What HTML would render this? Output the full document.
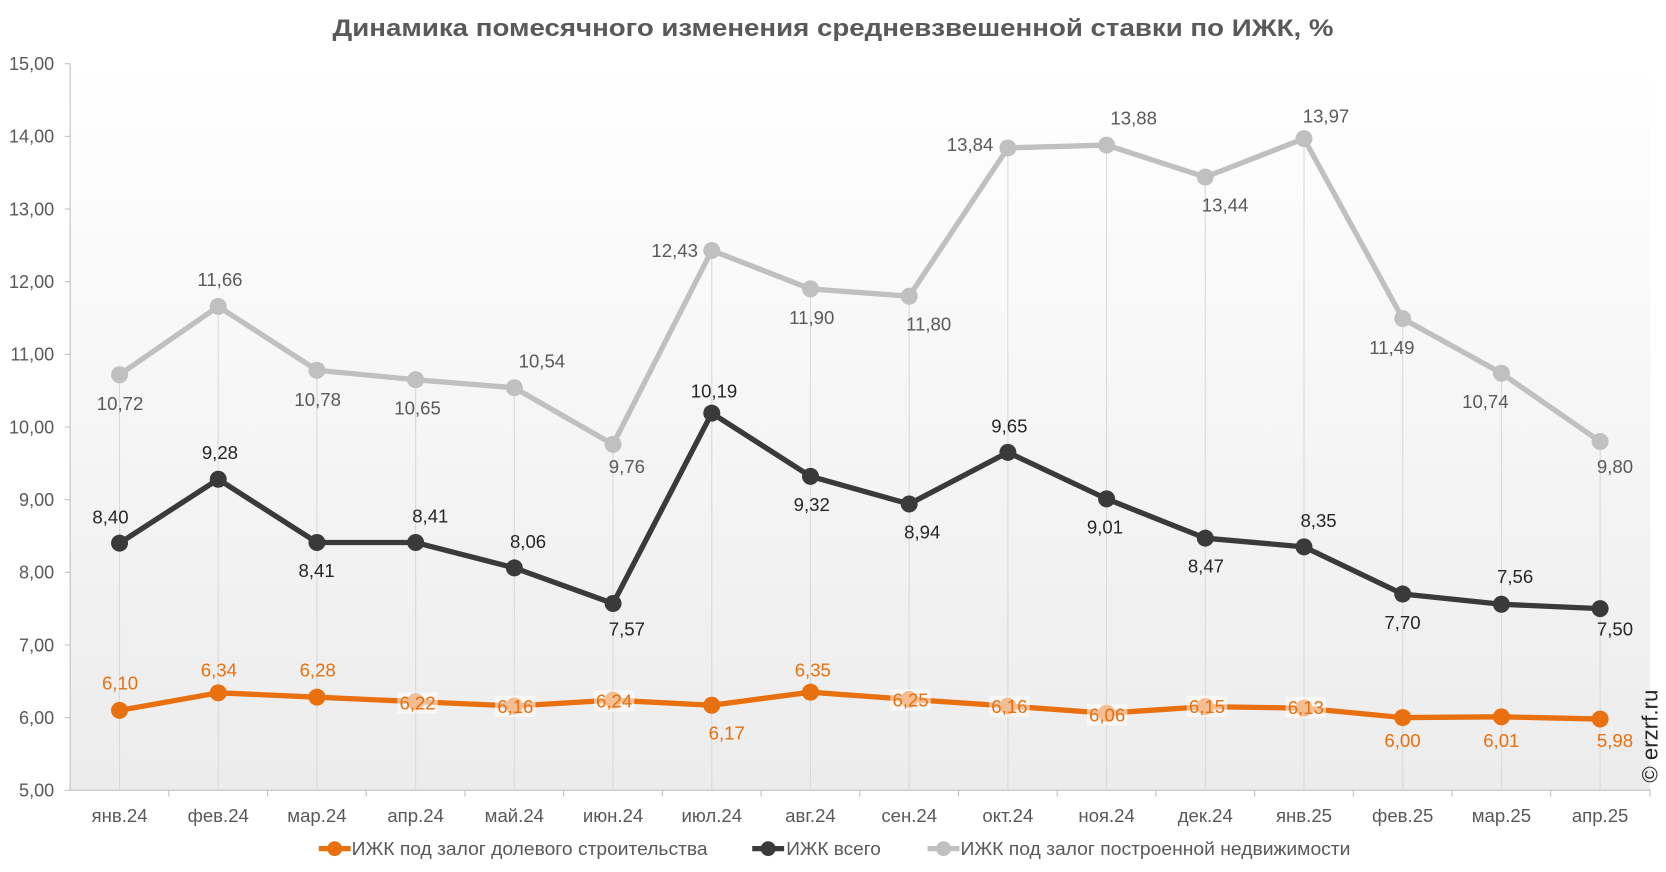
<!DOCTYPE html>
<html><head><meta charset="utf-8"><style>html,body{margin:0;padding:0;background:#fff}svg{display:block}text{font-family:"Liberation Sans",sans-serif}</style></head><body>
<svg width="1666" height="872" viewBox="0 0 1568 821" preserveAspectRatio="none" xmlns="http://www.w3.org/2000/svg">
<defs><linearGradient id="bg" x1="0" y1="0" x2="0" y2="1"><stop offset="0" stop-color="#ffffff"/><stop offset="1" stop-color="#ececec"/></linearGradient></defs>
<rect width="1568" height="821" fill="#fff"/>
<text x="313" y="34" textLength="942" lengthAdjust="spacingAndGlyphs" font-size="23" font-weight="bold" fill="#595959">Динамика помесячного изменения средневзвешенной ставки по ИЖК, %</text>
<rect x="66" y="60" width="1487" height="684" fill="url(#bg)"/>
<g stroke="#d9d9d9" stroke-width="1">
<line x1="112.5" y1="352" x2="112.5" y2="744"/><line x1="205.4" y1="288" x2="205.4" y2="744"/><line x1="298.3" y1="348" x2="298.3" y2="744"/><line x1="391.2" y1="357" x2="391.2" y2="744"/><line x1="484.1" y1="365" x2="484.1" y2="744"/><line x1="577" y1="418" x2="577" y2="744"/><line x1="669.9" y1="236" x2="669.9" y2="744"/><line x1="762.8" y1="272" x2="762.8" y2="744"/><line x1="855.7" y1="279" x2="855.7" y2="744"/><line x1="948.6" y1="139" x2="948.6" y2="744"/><line x1="1041.5" y1="137" x2="1041.5" y2="744"/><line x1="1134.4" y1="167" x2="1134.4" y2="744"/><line x1="1227.3" y1="130" x2="1227.3" y2="744"/><line x1="1320.2" y1="300" x2="1320.2" y2="744"/><line x1="1413.1" y1="351" x2="1413.1" y2="744"/><line x1="1506" y1="416" x2="1506" y2="744"/>
</g>
<g stroke="#bfbfbf" stroke-width="1">
<line x1="66" y1="60" x2="66" y2="744"/><line x1="66" y1="744" x2="1553" y2="744"/>
<line x1="61" y1="60" x2="66" y2="60"/><line x1="61" y1="128.4" x2="66" y2="128.4"/><line x1="61" y1="196.8" x2="66" y2="196.8"/><line x1="61" y1="265.2" x2="66" y2="265.2"/><line x1="61" y1="333.6" x2="66" y2="333.6"/><line x1="61" y1="402" x2="66" y2="402"/><line x1="61" y1="470.4" x2="66" y2="470.4"/><line x1="61" y1="538.8" x2="66" y2="538.8"/><line x1="61" y1="607.2" x2="66" y2="607.2"/><line x1="61" y1="675.6" x2="66" y2="675.6"/><line x1="61" y1="744" x2="66" y2="744"/>
<line x1="158.9" y1="744" x2="158.9" y2="750"/><line x1="251.8" y1="744" x2="251.8" y2="750"/><line x1="344.7" y1="744" x2="344.7" y2="750"/><line x1="437.6" y1="744" x2="437.6" y2="750"/><line x1="530.5" y1="744" x2="530.5" y2="750"/><line x1="623.4" y1="744" x2="623.4" y2="750"/><line x1="716.3" y1="744" x2="716.3" y2="750"/><line x1="809.2" y1="744" x2="809.2" y2="750"/><line x1="902.1" y1="744" x2="902.1" y2="750"/><line x1="995" y1="744" x2="995" y2="750"/><line x1="1087.9" y1="744" x2="1087.9" y2="750"/><line x1="1180.8" y1="744" x2="1180.8" y2="750"/><line x1="1273.7" y1="744" x2="1273.7" y2="750"/><line x1="1366.6" y1="744" x2="1366.6" y2="750"/><line x1="1459.5" y1="744" x2="1459.5" y2="750"/><line x1="1553" y1="744" x2="1553" y2="750"/>
</g>
<g font-size="17" fill="#595959" text-anchor="end">
<text x="51" y="66">15,00</text><text x="51" y="134.4">14,00</text><text x="51" y="202.8">13,00</text><text x="51" y="271.2">12,00</text><text x="51" y="339.6">11,00</text><text x="51" y="408">10,00</text><text x="51" y="476.4">9,00</text><text x="51" y="544.8">8,00</text><text x="51" y="613.2">7,00</text><text x="51" y="681.6">6,00</text><text x="51" y="750">5,00</text>
</g>
<g font-size="17.5" fill="#595959" text-anchor="middle">
<text x="112.5" y="774">янв.24</text><text x="205.4" y="774">фев.24</text><text x="298.3" y="774">мар.24</text><text x="391.2" y="774">апр.24</text><text x="484.1" y="774">май.24</text><text x="577" y="774">июн.24</text><text x="669.9" y="774">июл.24</text><text x="762.8" y="774">авг.24</text><text x="855.7" y="774">сен.24</text><text x="948.6" y="774">окт.24</text><text x="1041.5" y="774">ноя.24</text><text x="1134.4" y="774">дек.24</text><text x="1227.3" y="774">янв.25</text><text x="1320.2" y="774">фев.25</text><text x="1413.1" y="774">мар.25</text><text x="1506" y="774">апр.25</text>
</g>
<polyline fill="none" stroke="#c0c0c0" stroke-width="5" stroke-linejoin="round" points="112.5,352.8 205.4,288.5 298.3,348.6 391.2,357.5 484.1,365.1 577,418.4 669.9,235.8 762.8,272 855.7,278.9 948.6,139.3 1041.5,136.6 1134.4,166.7 1227.3,130.5 1320.2,300 1413.1,351.4 1506,415.7"/>
<g fill="#c0c0c0">
<circle cx="112.5" cy="352.8" r="8"/><circle cx="205.4" cy="288.5" r="8"/><circle cx="298.3" cy="348.6" r="8"/><circle cx="391.2" cy="357.5" r="8"/><circle cx="484.1" cy="365.1" r="8"/><circle cx="577" cy="418.4" r="8"/><circle cx="669.9" cy="235.8" r="8"/><circle cx="762.8" cy="272" r="8"/><circle cx="855.7" cy="278.9" r="8"/><circle cx="948.6" cy="139.3" r="8"/><circle cx="1041.5" cy="136.6" r="8"/><circle cx="1134.4" cy="166.7" r="8"/><circle cx="1227.3" cy="130.5" r="8"/><circle cx="1320.2" cy="300" r="8"/><circle cx="1413.1" cy="351.4" r="8"/><circle cx="1506" cy="415.7" r="8"/>
</g>
<polyline fill="none" stroke="#3a3a3a" stroke-width="5" stroke-linejoin="round" points="112.5,511.4 205.4,451.2 298.3,510.8 391.2,510.8 484.1,534.7 577,568.2 669.9,389 762.8,448.5 855.7,474.5 948.6,425.9 1041.5,469.7 1134.4,506.7 1227.3,514.9 1320.2,559.3 1413.1,568.9 1506,573"/>
<g fill="#3a3a3a">
<circle cx="112.5" cy="511.4" r="8"/><circle cx="205.4" cy="451.2" r="8"/><circle cx="298.3" cy="510.8" r="8"/><circle cx="391.2" cy="510.8" r="8"/><circle cx="484.1" cy="534.7" r="8"/><circle cx="577" cy="568.2" r="8"/><circle cx="669.9" cy="389" r="8"/><circle cx="762.8" cy="448.5" r="8"/><circle cx="855.7" cy="474.5" r="8"/><circle cx="948.6" cy="425.9" r="8"/><circle cx="1041.5" cy="469.7" r="8"/><circle cx="1134.4" cy="506.7" r="8"/><circle cx="1227.3" cy="514.9" r="8"/><circle cx="1320.2" cy="559.3" r="8"/><circle cx="1413.1" cy="568.9" r="8"/><circle cx="1506" cy="573" r="8"/>
</g>
<polyline fill="none" stroke="#e8700e" stroke-width="5" stroke-linejoin="round" points="112.5,668.8 205.4,652.3 298.3,656.4 391.2,660.6 484.1,664.7 577,659.2 669.9,664 762.8,651.7 855.7,658.5 948.6,664.7 1041.5,671.5 1134.4,665.3 1227.3,666.7 1320.2,675.6 1413.1,674.9 1506,677"/>
<g fill="#e8700e">
<circle cx="112.5" cy="668.8" r="8"/><circle cx="205.4" cy="652.3" r="8"/><circle cx="298.3" cy="656.4" r="8"/><circle cx="391.2" cy="660.6" r="8"/><circle cx="484.1" cy="664.7" r="8"/><circle cx="577" cy="659.2" r="8"/><circle cx="669.9" cy="664" r="8"/><circle cx="762.8" cy="651.7" r="8"/><circle cx="855.7" cy="658.5" r="8"/><circle cx="948.6" cy="664.7" r="8"/><circle cx="1041.5" cy="671.5" r="8"/><circle cx="1134.4" cy="665.3" r="8"/><circle cx="1227.3" cy="666.7" r="8"/><circle cx="1320.2" cy="675.6" r="8"/><circle cx="1413.1" cy="674.9" r="8"/><circle cx="1506" cy="677" r="8"/>
</g>
<g font-size="17.5" fill="#595959" text-anchor="middle" dominant-baseline="central">
<text x="113" y="380">10,72</text><text x="207" y="263">11,66</text><text x="299" y="376">10,78</text><text x="393" y="384">10,65</text><text x="510" y="340">10,54</text><text x="590" y="439">9,76</text><text x="635" y="236">12,43</text><text x="764" y="299">11,90</text><text x="874" y="305">11,80</text><text x="913" y="136">13,84</text><text x="1067" y="111">13,88</text><text x="1153" y="193">13,44</text><text x="1248" y="109">13,97</text><text x="1310" y="327">11,49</text><text x="1398" y="378">10,74</text><text x="1520" y="439">9,80</text>
</g>
<g font-size="17.5" fill="#262626" text-anchor="middle" dominant-baseline="central">
<text x="104" y="487">8,40</text><text x="207" y="426">9,28</text><text x="298" y="537">8,41</text><text x="405" y="486">8,41</text><text x="497" y="510">8,06</text><text x="590" y="592">7,57</text><text x="672" y="368">10,19</text><text x="764" y="475">9,32</text><text x="868" y="501">8,94</text><text x="950" y="401">9,65</text><text x="1040" y="496">9,01</text><text x="1135" y="533">8,47</text><text x="1241" y="490">8,35</text><text x="1320" y="586">7,70</text><text x="1426" y="543">7,56</text><text x="1520" y="592">7,50</text>
</g>
<g fill="#ffffff" fill-opacity="0.55">
<rect x="374" y="652" width="38" height="20"/><rect x="466" y="655" width="38" height="20"/><rect x="559" y="650" width="38" height="20"/><rect x="838" y="649" width="38" height="20"/><rect x="931" y="655" width="38" height="20"/><rect x="1023" y="663" width="38" height="20"/><rect x="1117" y="655" width="38" height="20"/><rect x="1210" y="656" width="38" height="20"/>
</g>
<g font-size="17.5" fill="#e8700e" text-anchor="middle" dominant-baseline="central">
<text x="113" y="643">6,10</text><text x="206" y="631">6,34</text><text x="299" y="631">6,28</text><text x="393" y="662">6,22</text><text x="485" y="665">6,16</text><text x="578" y="660">6,24</text><text x="684" y="690">6,17</text><text x="765" y="631">6,35</text><text x="857" y="659">6,25</text><text x="950" y="665">6,16</text><text x="1042" y="673">6,06</text><text x="1136" y="665">6,15</text><text x="1229" y="666">6,13</text><text x="1320" y="697">6,00</text><text x="1413" y="697">6,01</text><text x="1520" y="697">5,98</text>
</g>
<text transform="translate(1560,737) rotate(-90)" font-size="21" fill="#262626">© erzrf.ru</text>
<line x1="300" y1="799" x2="330" y2="799" stroke="#e8700e" stroke-width="5"/><circle cx="315" cy="799" r="7" fill="#e8700e"/>
<text x="331" y="805" textLength="335" lengthAdjust="spacingAndGlyphs" font-size="17" fill="#595959">ИЖК под залог долевого строительства</text>
<line x1="708" y1="799" x2="738" y2="799" stroke="#3a3a3a" stroke-width="5"/><circle cx="723" cy="799" r="7" fill="#3a3a3a"/>
<text x="740" y="805" textLength="89" lengthAdjust="spacingAndGlyphs" font-size="17" fill="#595959">ИЖК всего</text>
<line x1="873" y1="799" x2="903" y2="799" stroke="#c0c0c0" stroke-width="5"/><circle cx="888" cy="799" r="7" fill="#c0c0c0"/>
<text x="904" y="805" textLength="367" lengthAdjust="spacingAndGlyphs" font-size="17" fill="#595959">ИЖК под залог построенной недвижимости</text>
</svg>
</body></html>
